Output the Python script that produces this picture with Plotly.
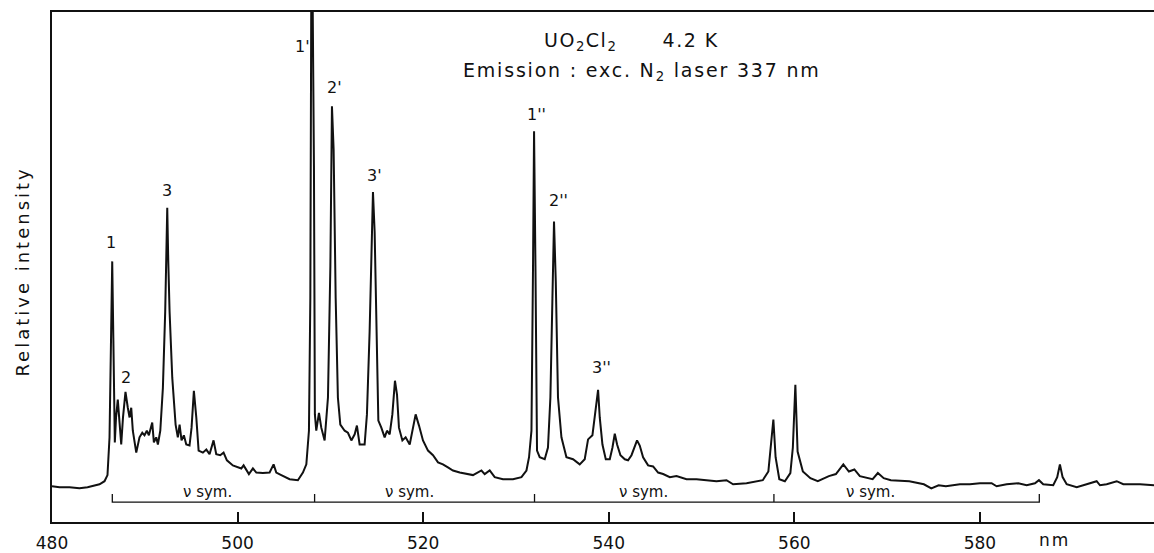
import plotly.graph_objects as go

# Emission spectrum of UO2Cl2 at 4.2 K (wavelength in nm, relative intensity 0-100)
wavelength_nm = [
    480.00, 480.81, 481.89, 482.96, 483.83, 484.58, 485.12, 485.66, 485.98, 486.20,
    486.36, 486.49, 486.61, 486.68, 486.77, 486.90, 487.09, 487.28, 487.46, 487.65,
    487.92, 488.17, 488.36, 488.54, 488.71, 489.08, 489.43, 489.73, 489.97, 490.22,
    490.44, 490.80, 490.98, 491.23, 491.41, 491.67, 491.95, 492.20, 492.31, 492.42,
    492.53, 492.67, 492.96, 493.32, 493.56, 493.75, 493.96, 494.21, 494.47, 494.82,
    495.04, 495.29, 495.55, 495.80, 496.26, 496.63, 496.98, 497.41, 497.70, 498.13,
    498.49, 498.85, 499.49, 500.40, 500.65, 500.94, 501.22, 501.65, 502.02, 502.73,
    503.45, 503.88, 504.17, 504.71, 505.61, 506.50, 507.04, 507.41, 507.69, 507.84,
    507.97, 508.10, 508.23, 508.33, 508.48, 508.77, 509.02, 509.38, 509.74, 510.00,
    510.17, 510.35, 510.57, 510.81, 511.07, 511.54, 511.89, 512.26, 512.62, 512.86,
    513.15, 513.69, 513.94, 514.23, 514.45, 514.59, 514.77, 514.96, 515.17, 515.49,
    515.85, 516.10, 516.39, 516.68, 516.96, 517.18, 517.39, 517.76, 518.11, 518.55,
    518.90, 519.19, 519.55, 519.98, 520.52, 521.06, 521.60, 522.13, 522.67, 523.21,
    523.94, 524.66, 525.37, 526.28, 526.63, 527.17, 527.71, 528.60, 529.68, 530.59,
    531.13, 531.41, 531.67, 531.84, 531.95, 532.10, 532.27, 532.56, 533.10, 533.45,
    533.71, 533.93, 534.10, 534.29, 534.53, 534.90, 535.44, 536.15, 536.87, 537.41,
    537.77, 538.24, 538.49, 538.85, 539.03, 539.32, 539.68, 540.11, 540.40, 540.65,
    540.90, 541.26, 541.73, 542.08, 542.45, 542.80, 543.05, 543.34, 543.70, 544.24,
    544.78, 545.32, 545.86, 546.58, 547.30, 548.38, 549.46, 550.53, 551.61, 552.69,
    553.40, 554.85, 555.93, 556.60, 557.20, 557.47, 557.74, 557.98, 558.38, 558.98,
    559.57, 559.84, 560.11, 560.35, 560.92, 561.73, 562.53, 563.72, 564.48, 565.28,
    565.88, 566.47, 567.06, 568.44, 569.00, 569.63, 570.40, 572.39, 573.96, 574.76,
    575.55, 576.33, 577.84, 578.92, 580.00, 581.26, 581.80, 582.88, 584.13, 585.04,
    585.93, 586.36, 586.82, 587.90, 588.33, 588.62, 588.91, 589.35, 590.43, 591.50,
    592.58, 592.94, 593.66, 594.74, 595.45, 597.25, 598.76,
]
intensity = [
    7.0, 6.8, 6.8, 6.6, 6.8, 7.2, 7.4, 8.0, 9.2, 16.6,
    38.0, 51.1, 36.1, 20.5, 15.6, 20.5, 24.0, 19.5, 15.2, 20.5,
    25.5, 22.4, 20.5, 22.4, 17.9, 13.6, 16.6, 17.5, 17.0, 17.9,
    17.0, 19.5, 15.6, 16.6, 15.2, 17.9, 26.3, 41.3, 50.3, 61.6,
    51.1, 41.3, 28.3, 19.1, 16.6, 19.1, 16.0, 17.0, 15.2, 15.0,
    18.5, 25.7, 20.5, 14.0, 13.6, 14.2, 13.3, 16.0, 13.3, 13.1,
    13.6, 12.1, 11.1, 10.5, 11.1, 10.1, 9.4, 10.5, 9.7, 9.6,
    9.7, 11.3, 9.7, 9.2, 8.4, 8.2, 9.7, 11.3, 17.9, 43.9,
    120.0, 100.0, 69.8, 21.1, 17.9, 21.4, 18.5, 16.0, 24.4, 50.3,
    81.5, 73.1, 43.9, 24.4, 19.1, 17.9, 17.5, 16.0, 17.2, 18.9,
    15.2, 15.2, 21.1, 37.4, 56.9, 64.7, 56.9, 37.4, 19.9, 18.5,
    16.6, 17.9, 17.2, 21.1, 27.7, 25.0, 18.5, 16.0, 16.6, 15.2,
    18.5, 21.1, 18.9, 16.0, 14.0, 13.1, 11.7, 11.3, 10.7, 10.1,
    9.7, 9.4, 9.2, 10.1, 9.4, 10.1, 8.8, 8.4, 8.4, 8.8,
    10.1, 12.7, 17.9, 50.3, 76.6, 50.3, 14.0, 12.7, 12.3, 14.6,
    24.4, 43.9, 58.9, 47.2, 24.4, 16.6, 12.7, 12.3, 11.3, 12.3,
    16.2, 17.0, 20.5, 25.9, 20.5, 15.2, 12.3, 12.3, 14.6, 17.3,
    15.2, 13.1, 12.3, 12.1, 13.1, 14.6, 16.0, 15.0, 12.7, 11.1,
    10.9, 9.7, 9.4, 8.8, 9.0, 8.4, 8.4, 8.2, 8.0, 8.2,
    7.4, 7.6, 8.0, 8.2, 9.9, 14.6, 20.1, 12.7, 8.4, 8.0,
    9.6, 14.6, 26.9, 13.8, 9.9, 8.6, 8.0, 9.0, 9.4, 11.3,
    9.9, 10.3, 9.0, 8.4, 9.6, 8.6, 8.2, 8.0, 7.4, 6.6,
    7.2, 7.0, 7.4, 7.4, 7.6, 7.6, 7.0, 7.4, 7.6, 7.2,
    7.6, 8.2, 7.4, 7.2, 8.8, 11.3, 8.8, 7.4, 6.8, 7.4,
    8.0, 7.2, 7.4, 8.0, 7.4, 7.4, 7.2,
]

# Peak labels
peak_labels = ["1", "2", "3", "1'", "2'", "3'", "1''", "2''", "3''"]
peak_label_nm = [486.38, 488.00, 492.42, 507.04, 510.46, 514.77, 532.21, 534.53, 539.24]
peak_label_int = [54.9, 28.4, 65.0, 93.2, 85.1, 67.9, 79.9, 63.0, 30.2]

# nu sym. progression bracket
bracket_nm = [486.5, 508.3, 532.0, 557.8, 586.4]
bracket_base = 3.9
bracket_top = 5.5
nusym_label_nm = [496.8, 518.5, 543.7, 568.2]
nusym_label_int = 5.9

x_ticks = [480, 500, 520, 540, 560, 580]
x_range = [480, 598.76]

FONT = "DejaVu Sans"
INK = "#111111"


def spaced(text, px):
    return '<span style="letter-spacing:%spx">%s</span>' % (px, text)


fig = go.Figure()

fig.add_trace(go.Scatter(
    x=wavelength_nm, y=intensity, mode="lines",
    line=dict(color=INK, width=2), hoverinfo="skip", showlegend=False,
))

# bracket built from the progression positions
bx, by = [], []
bx += [bracket_nm[0], bracket_nm[0]]
by += [bracket_top, bracket_base]
for b in bracket_nm[1:-1]:
    bx += [b, b, b]
    by += [bracket_base, bracket_top, bracket_base]
bx += [bracket_nm[-1], bracket_nm[-1]]
by += [bracket_base, bracket_top]
fig.add_trace(go.Scatter(
    x=bx, y=by, mode="lines", line=dict(color=INK, width=1.3),
    hoverinfo="skip", showlegend=False,
))

for t, x, y in zip(peak_labels, peak_label_nm, peak_label_int):
    fig.add_annotation(x=x, y=y, xref="x", yref="y", text=t, showarrow=False,
                       font=dict(family=FONT, size=16, color=INK))

for x in nusym_label_nm:
    fig.add_annotation(x=x, y=nusym_label_int, xref="x", yref="y", text="ν sym.",
                       showarrow=False, font=dict(family=FONT, size=15, color=INK))

fig.add_annotation(x=542.4, y=94.2, xref="x", yref="y",
                   text=spaced("UO<sub>2</sub>Cl<sub>2</sub>      4.2 K", 1.5),
                   showarrow=False, font=dict(family=FONT, size=19, color=INK))
fig.add_annotation(x=543.6, y=88.3, xref="x", yref="y",
                   text=spaced("Emission : exc. N<sub>2</sub> laser 337 nm", 1.8),
                   showarrow=False, font=dict(family=FONT, size=19, color=INK))

fig.add_annotation(x=0.910, y=-0.035, xref="paper", yref="paper",
                   text=spaced("nm", 2), showarrow=False,
                   xanchor="center", yanchor="middle",
                   font=dict(family=FONT, size=17, color=INK))
fig.add_annotation(x=-0.0263, y=0.491, xref="paper", yref="paper",
                   text=spaced("Relative intensity", 3), textangle=-90, showarrow=False,
                   xanchor="center", yanchor="middle",
                   font=dict(family=FONT, size=18, color=INK))

fig.update_layout(
    width=1154, height=553,
    margin=dict(l=52, r=0, t=12, b=28),
    paper_bgcolor="white", plot_bgcolor="white",
    font=dict(family=FONT, color=INK),
    xaxis=dict(
        range=x_range, tickvals=x_ticks, ticktext=[str(v) for v in x_ticks],
        ticks="inside", ticklen=10, tickwidth=1.5, tickcolor=INK,
        showline=True, linewidth=1.5, linecolor=INK, mirror=True,
        showgrid=False, zeroline=False, tickfont=dict(size=17, family=FONT),
        ticklabelstandoff=5,
    ),
    yaxis=dict(
        range=[0, 100], showline=True, linewidth=1.5, linecolor=INK,
        showticklabels=False, ticks="", showgrid=False, zeroline=False,
    ),
)

fig.write_html("out.html")
